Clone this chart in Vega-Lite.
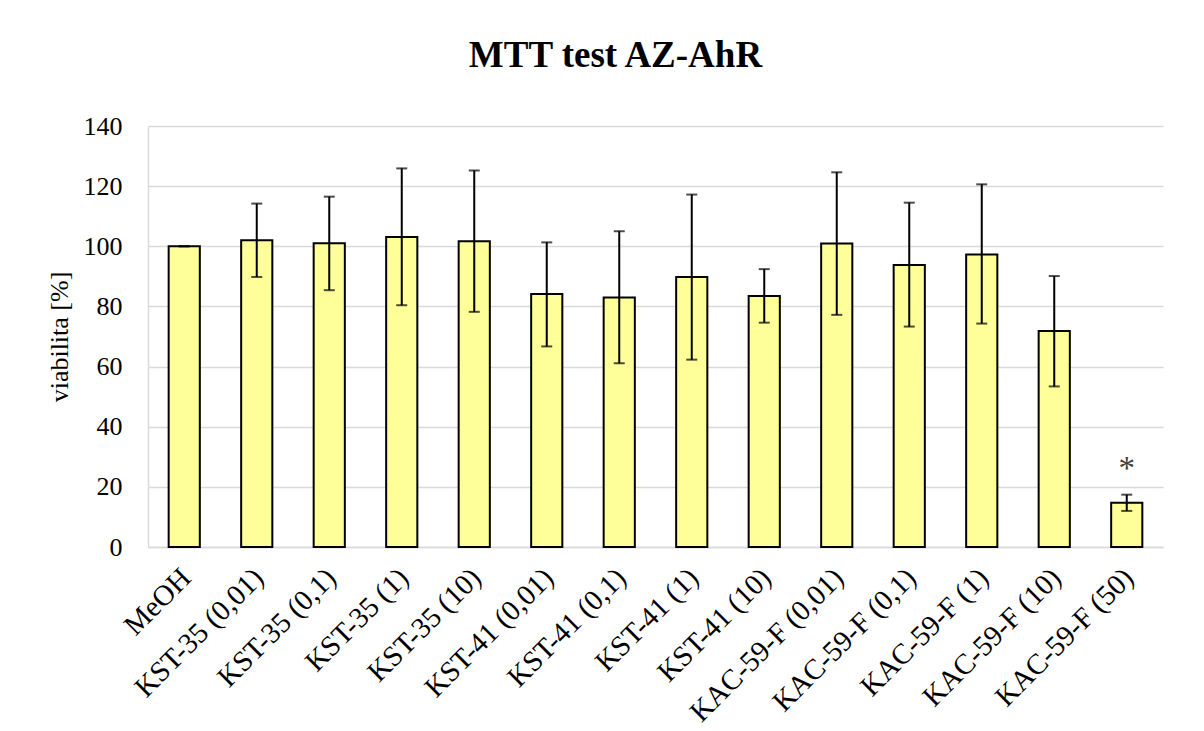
{
  "$schema": "https://vega.github.io/schema/vega-lite/v6.json",
  "width": 1015,
  "height": 421,
  "autosize": {"type": "none"},
  "padding": {"left": 148, "top": 126, "right": 41, "bottom": 184},
  "background": "white",
  "title": {
    "text": "MTT test AZ-AhR",
    "font": "Liberation Serif",
    "fontSize": 37,
    "fontWeight": "bold",
    "color": "#000000",
    "anchor": "middle",
    "dx": -40,
    "offset": 38
  },
  "config": {
    "view": {"stroke": null},
    "axis": {
      "labelFont": "Liberation Serif",
      "titleFont": "Liberation Serif",
      "labelColor": "#000000",
      "titleColor": "#000000",
      "gridColor": "#d9d9d9",
      "gridWidth": 1.5,
      "domainColor": "#d9d9d9",
      "domainWidth": 1.5
    }
  },
  "data": {
    "values": [
      {"label": "MeOH", "value": 100, "lower": 100, "upper": 100, "sig": ""},
      {"label": "KST-35 (0,01)", "value": 102, "lower": 89.8, "upper": 114.2, "sig": ""},
      {"label": "KST-35 (0,1)", "value": 101, "lower": 85.4, "upper": 116.5, "sig": ""},
      {"label": "KST-35 (1)", "value": 103.1, "lower": 80.4, "upper": 125.9, "sig": ""},
      {"label": "KST-35 (10)", "value": 101.7, "lower": 78.2, "upper": 125.2, "sig": ""},
      {"label": "KST-41 (0,01)", "value": 84.1, "lower": 66.7, "upper": 101.3, "sig": ""},
      {"label": "KST-41 (0,1)", "value": 83.0, "lower": 61.1, "upper": 105.0, "sig": ""},
      {"label": "KST-41 (1)", "value": 89.8, "lower": 62.3, "upper": 117.2, "sig": ""},
      {"label": "KST-41 (10)", "value": 83.5, "lower": 74.6, "upper": 92.4, "sig": ""},
      {"label": "KAC-59-F (0,01)", "value": 100.9, "lower": 77.2, "upper": 124.6, "sig": ""},
      {"label": "KAC-59-F (0,1)", "value": 93.8, "lower": 73.3, "upper": 114.5, "sig": ""},
      {"label": "KAC-59-F (1)", "value": 97.3, "lower": 74.3, "upper": 120.6, "sig": ""},
      {"label": "KAC-59-F (10)", "value": 71.8, "lower": 53.4, "upper": 90.1, "sig": ""},
      {"label": "KAC-59-F (50)", "value": 14.7, "lower": 12.0, "upper": 17.4, "sig": "*"}
    ]
  },
  "encoding": {
    "x": {
      "field": "label",
      "type": "nominal",
      "sort": null,
      "scale": {"paddingInner": 0.57, "paddingOuter": 0.285},
      "axis": {
        "title": null,
        "labelAngle": -45,
        "labelFontSize": 29,
        "labelLimit": 0,
        "ticks": false,
        "labelPadding": 16,
        "labelOffset": -8,
        "grid": false
      }
    }
  },
  "layer": [
    {
      "mark": {"type": "bar", "fill": "#ffff99", "stroke": "#000000", "strokeWidth": 2},
      "encoding": {
        "y": {
          "field": "value",
          "type": "quantitative",
          "scale": {"domain": [0, 140], "nice": false},
          "axis": {
            "title": "viabilita [%]",
            "titleFontSize": 26,
            "titleFontWeight": "normal",
            "titlePadding": 11,
            "labelFontSize": 26,
            "labelPadding": 26,
            "ticks": false,
            "values": [0, 20, 40, 60, 80, 100, 120, 140]
          }
        }
      }
    },
    {
      "mark": {"type": "rule", "color": "#000000", "strokeWidth": 2},
      "encoding": {
        "y": {"field": "lower", "type": "quantitative"},
        "y2": {"field": "upper"}
      }
    },
    {
      "mark": {"type": "tick", "color": "#000000", "thickness": 2, "size": 11},
      "encoding": {
        "y": {"field": "upper", "type": "quantitative"}
      }
    },
    {
      "mark": {"type": "tick", "color": "#000000", "thickness": 2, "size": 11},
      "encoding": {
        "y": {"field": "lower", "type": "quantitative"}
      }
    },
    {
      "transform": [{"filter": "datum.sig != ''"}],
      "mark": {"type": "text", "font": "Liberation Serif", "fontSize": 33, "color": "#404040", "baseline": "alphabetic", "dy": -16},
      "encoding": {
        "y": {"field": "upper", "type": "quantitative"},
        "text": {"field": "sig"}
      }
    }
  ]
}
